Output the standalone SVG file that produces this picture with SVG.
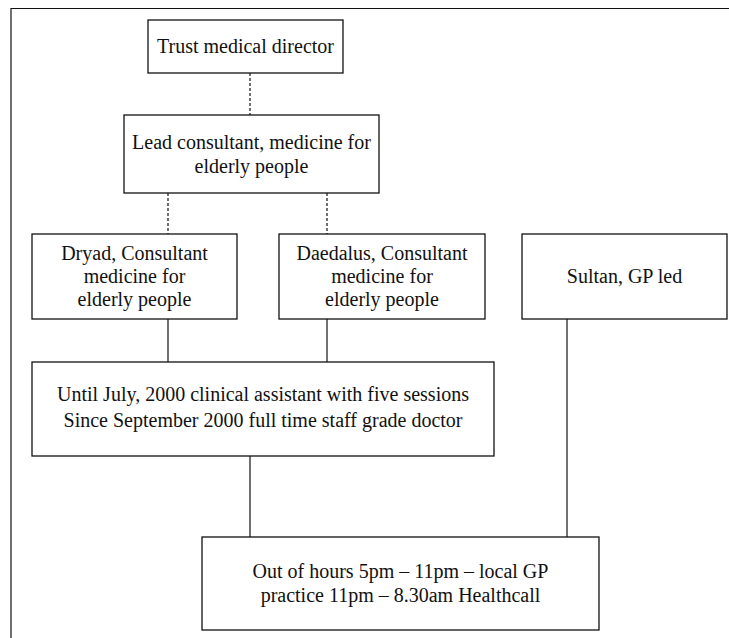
<svg xmlns="http://www.w3.org/2000/svg" width="729" height="638" viewBox="0 0 729 638">
<style>
.box{fill:#fff;stroke:#111;stroke-width:1.3}
.t{font-family:"Liberation Serif","Times New Roman",serif;font-size:20px;fill:#111;text-anchor:middle}
.solid{stroke:#111;stroke-width:1.2;fill:none}
.dot{stroke:#111;stroke-width:1.2;fill:none;stroke-dasharray:3 2}
</style>
<rect width="729" height="638" fill="#fff"/>
<path class="solid" d="M11,638 V8.5 H729"/>
<g id="connectors">
<line class="dot" x1="250" y1="73" x2="250" y2="115"/>
<line class="dot" x1="168" y1="193" x2="168" y2="234"/>
<line class="dot" x1="327" y1="193" x2="327" y2="234"/>
<line class="solid" x1="168" y1="319" x2="168" y2="362"/>
<line class="solid" x1="327" y1="319" x2="327" y2="362"/>
<line class="solid" x1="567" y1="319" x2="567" y2="537"/>
<line class="solid" x1="250" y1="456" x2="250" y2="537"/>
</g>
<g id="trust">
<rect class="box" x="148" y="20" width="195" height="53"/>
<text class="t" x="245.5" y="53">Trust medical director</text>
</g>
<g id="lead">
<rect class="box" x="124" y="115" width="255" height="78"/>
<text class="t" x="251.5" y="149">Lead consultant, medicine for</text>
<text class="t" x="251.5" y="173">elderly people</text>
</g>
<g id="dryad">
<rect class="box" x="32" y="234" width="205" height="85"/>
<text class="t" x="134.5" y="260">Dryad, Consultant</text>
<text class="t" x="134.5" y="283">medicine for</text>
<text class="t" x="134.5" y="306">elderly people</text>
</g>
<g id="daedalus">
<rect class="box" x="279" y="234" width="206" height="85"/>
<text class="t" x="382" y="260">Daedalus, Consultant</text>
<text class="t" x="382" y="283">medicine for</text>
<text class="t" x="382" y="306">elderly people</text>
</g>
<g id="sultan">
<rect class="box" x="522" y="234" width="205" height="85"/>
<text class="t" x="624.5" y="283">Sultan, GP led</text>
</g>
<g id="assistant">
<rect class="box" x="32" y="362" width="462" height="94"/>
<text class="t" x="263" y="401">Until July, 2000 clinical assistant with five sessions</text>
<text class="t" x="263" y="427">Since September 2000 full time staff grade doctor</text>
</g>
<g id="outofhours">
<rect class="box" x="202" y="537" width="397" height="93"/>
<text class="t" x="400.5" y="578">Out of hours 5pm – 11pm – local GP</text>
<text class="t" x="400.5" y="602">practice 11pm – 8.30am Healthcall</text>
</g>
</svg>
